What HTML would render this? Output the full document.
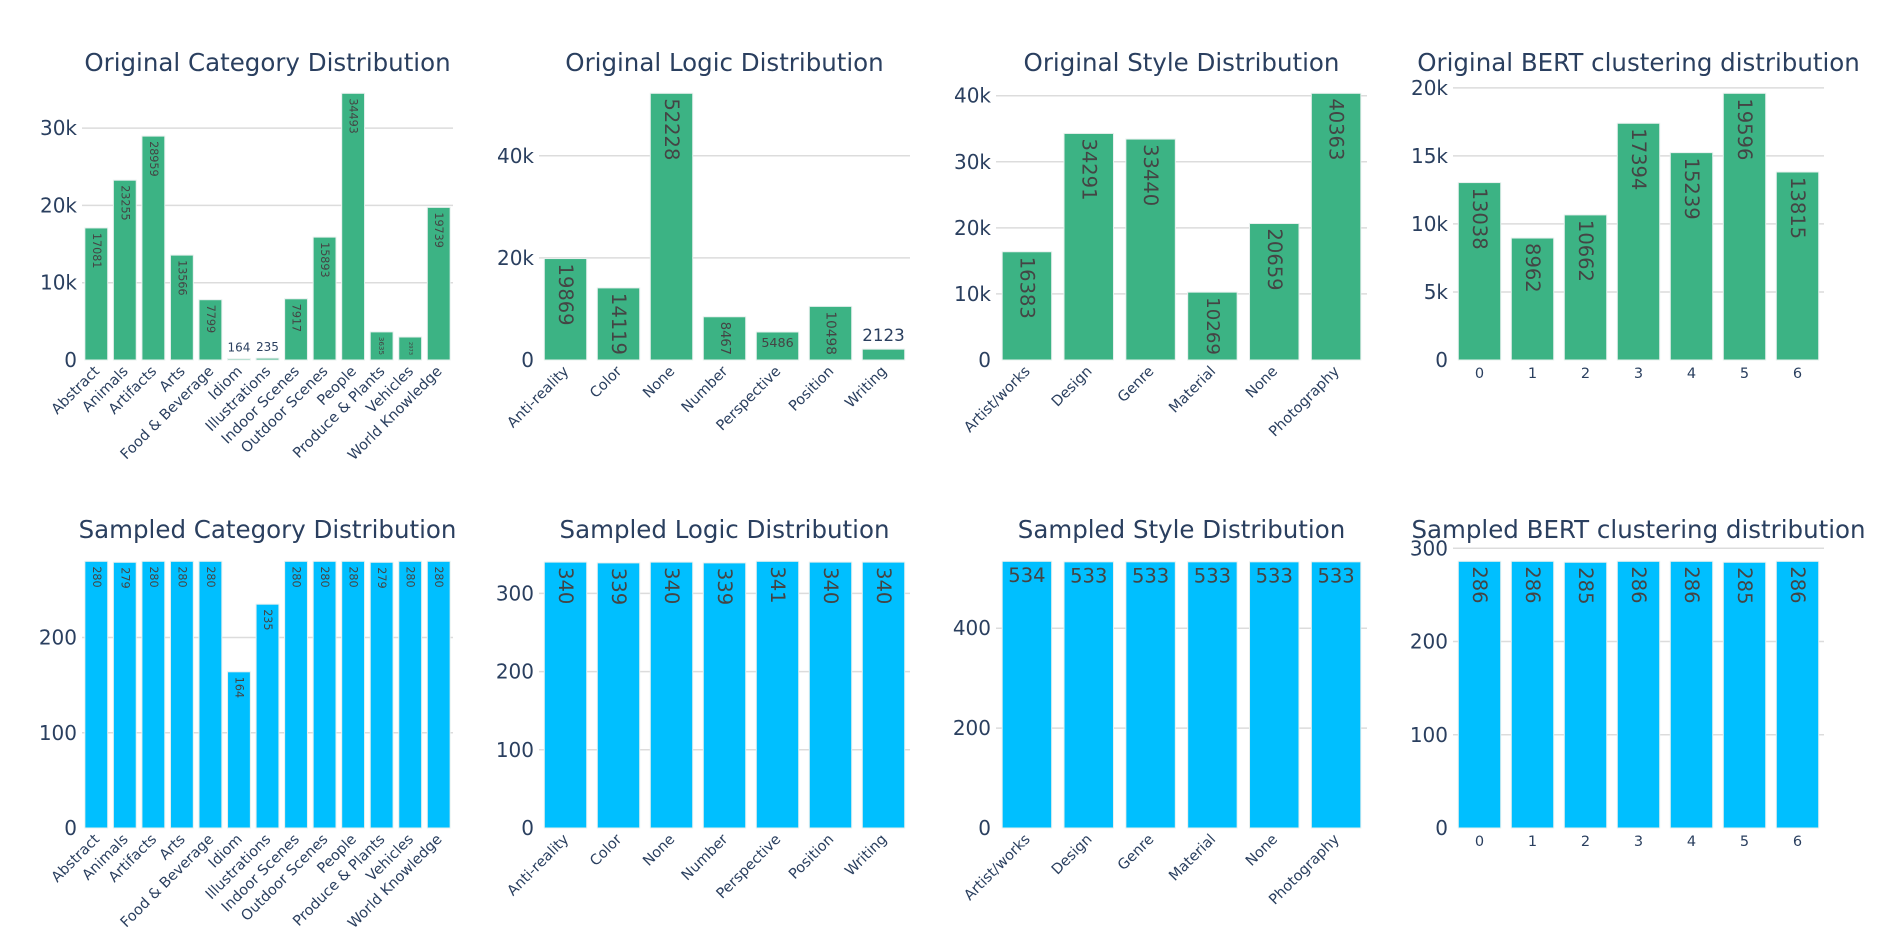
<!DOCTYPE html>
<html><head><meta charset="utf-8"><style>
html,body{margin:0;padding:0;background:#fff;}
svg{display:block;font-family:"DejaVu Sans","Liberation Sans",sans-serif;}
</style></head><body>
<svg id="root" width="1903" height="952" viewBox="0 0 1903 952" xmlns="http://www.w3.org/2000/svg"></svg>
<script>
// ---- data ----
const catLabels = ["Abstract","Animals","Artifacts","Arts","Food & Beverage","Idiom","Illustrations","Indoor Scenes","Outdoor Scenes","People","Produce & Plants","Vehicles","World Knowledge"];
const catOrig = [17081,23255,28959,13566,7799,164,235,7917,15893,34493,3635,2973,19739];
const catSampled = [280,279,280,280,280,164,235,280,280,280,279,280,280];
const logicLabels = ["Anti-reality","Color","None","Number","Perspective","Position","Writing"];
const logicOrig = [19869,14119,52228,8467,5486,10498,2123];
const logicSampled = [340,339,340,339,341,340,340];
const styleLabels = ["Artist/works","Design","Genre","Material","None","Photography"];
const styleOrig = [16383,34291,33440,10269,20659,40363];
const styleSampled = [534,533,533,533,533,533];
const bertLabels = ["0","1","2","3","4","5","6"];
const bertOrig = [13038,8962,10662,17394,15239,19596,13815];
const bertSampled = [286,286,285,286,286,285,286];
const ticksCatOrig = [0,10000,20000,30000];
const ticksLogicOrig = [0,20000,40000];
const ticksStyleOrig = [0,10000,20000,30000,40000];
const ticksBertOrig = [0,5000,10000,15000,20000];
const ticksCatSampled = [0,100,200];
const ticksLogicSampled = [0,100,200,300];
const ticksStyleSampled = [0,200,400];
const ticksBertSampled = [0,100,200,300];
const titles = ["Original Category Distribution","Original Logic Distribution","Original Style Distribution","Original BERT clustering distribution","Sampled Category Distribution","Sampled Logic Distribution","Sampled Style Distribution","Sampled BERT clustering distribution"];

const NS = "http://www.w3.org/2000/svg";
const root = document.getElementById('root');
const cv = document.createElement('canvas').getContext('2d');
function tw(t, s){ cv.font = s + 'px "DejaVu Sans"'; return cv.measureText(t).width; }
function mk(tag, attrs, parent){ const e = document.createElementNS(NS, tag); for (const k in attrs) e.setAttribute(k, attrs[k]); (parent||root).appendChild(e); return e; }
function fmt(v){ return v >= 1000 ? (v/1000) + 'k' : String(v); }

const colX = [82, 539, 996, 1453];
const plotW = 371;
const rowY = [[80,360],[548,828]];
const titleY = [71, 538];

function chart(idx, labels, vals, ticks, color, rotateLabels){
  const col = idx % 4, row = Math.floor(idx / 4);
  const x0 = colX[col], x1 = x0 + plotW;
  const yT = rowY[row][0], yB = rowY[row][1];
  const vmax = Math.max(...vals) * 1.05;
  const ys = v => yB - (v / vmax) * (yB - yT);
  const step = plotW / labels.length;
  const xs = i => x0 + step * (i + 0.5);
  const bw = step * 0.8;
  const g = mk('g', {});
  
  
  const t = mk('text', {x: x0 + plotW/2, y: titleY[row], 'text-anchor':'middle', 'font-size':24.5, fill:'#2a3f5f'}, g);
  t.textContent = titles[idx];
  
  
  ticks.forEach(tv => {
    const y = ys(tv);
    if (tv !== 0) {
      const l = mk('line', {x1:x0, x2:x1, y1:y, y2:y, stroke:'#dcdcdc', 'stroke-width':1.5}, g);
      
      
    }
    const lb = mk('text', {x: x0 - 5, y: y + 7, 'text-anchor':'end', 'font-size':20, fill:'#2a3f5f'}, g);
    lb.textContent = fmt(tv);
    
    
  });
  vals.forEach((v, i) => {
    const cx = xs(i), top = ys(v), h = yB - top;
    const r = mk('rect', {x: cx - bw/2, y: top, width: bw, height: h, fill: color, stroke:'#e8f0ee', 'stroke-width':1}, g);
    
    
    const txt = String(v), S = 19.5, pad = 5;
    const w = tw(txt, S), th = S * 1.15;
    const iw = bw - 2*pad, ih = h - 2*pad;
    let mode, size = S;
    if (w <= iw && th <= ih) { mode = 'h'; }
    else if (th <= iw && w <= ih) { mode = 'r'; }
    else {
      const sh = Math.min(iw / w, ih / th), sr = Math.min(iw / th, ih / w);
      const fitsShrunk = h >= th * (bw / w);
      if (!fitsShrunk) { mode = 'o'; size = Math.min(S, S * (bw / w)); }
      else if (sr >= sh) { mode = 'r'; size = S * sr; }
      else { mode = 'h'; size = S * sh; }
    }
    let te;
    if (mode === 'h') te = mk('text', {x: cx, y: top + pad + size*0.8, 'text-anchor':'middle', 'font-size':size, fill:'#444'}, g);
    else if (mode === 'r') te = mk('text', {x: cx, y: top + pad, 'text-anchor':'start', 'dominant-baseline':'central', 'font-size':size, fill:'#444', transform:'rotate(90 ' + cx + ' ' + (top + pad) + ')'}, g);
    else te = mk('text', {x: cx, y: top - pad - size*0.2, 'text-anchor':'middle', 'font-size':size, fill:'#2a3f5f'}, g);
    te.textContent = txt;
    
    
    let xl;
    if (rotateLabels) xl = mk('text', {x: cx + 4, y: yB + 12, 'text-anchor':'end', 'font-size':14.5, fill:'#2a3f5f', transform:'rotate(-45 ' + (cx + 4) + ' ' + (yB + 12) + ')'}, g);
    else xl = mk('text', {x: cx, y: yB + 18, 'text-anchor':'middle', 'font-size':14.5, fill:'#2a3f5f'}, g);
    xl.textContent = labels[i];
    
    
  });
}
const G = '#3cb384', B = '#00bfff';
chart(0, catLabels, catOrig, ticksCatOrig, G, true);
chart(1, logicLabels, logicOrig, ticksLogicOrig, G, true);
chart(2, styleLabels, styleOrig, ticksStyleOrig, G, true);
chart(3, bertLabels, bertOrig, ticksBertOrig, G, false);
chart(4, catLabels, catSampled, ticksCatSampled, B, true);
chart(5, logicLabels, logicSampled, ticksLogicSampled, B, true);
chart(6, styleLabels, styleSampled, ticksStyleSampled, B, true);
chart(7, bertLabels, bertSampled, ticksBertSampled, B, false);
</script>
</body></html>
